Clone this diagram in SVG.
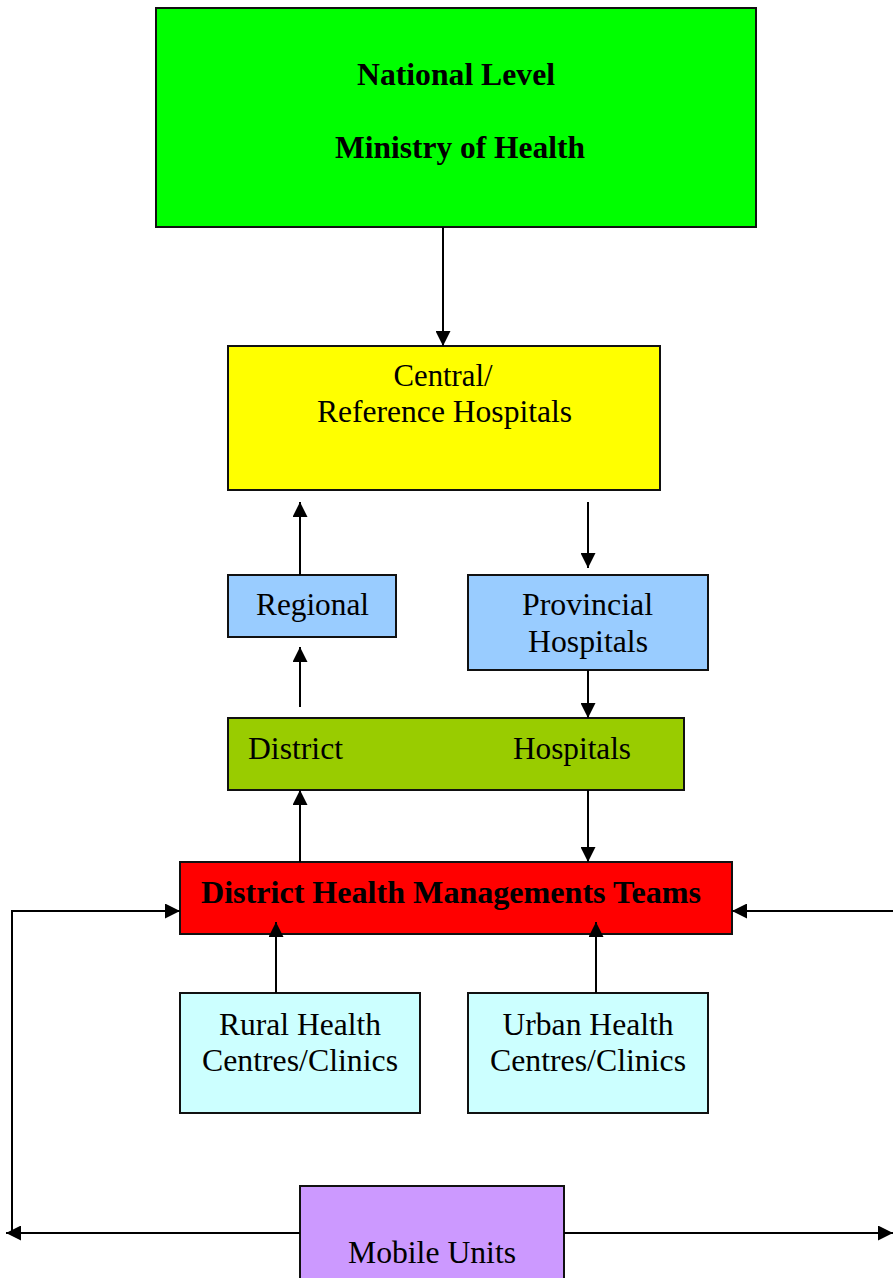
<svg xmlns="http://www.w3.org/2000/svg" width="893" height="1278" viewBox="0 0 893 1278">
<style>
.box{stroke:#111;stroke-width:2}
.t{font-family:"Liberation Serif","Times New Roman",serif;font-size:32px;fill:#000;text-anchor:middle}
.b{font-weight:bold}
.s{text-anchor:start}
.c{fill:none;stroke:#000;stroke-width:2}
</style>
<defs>
<marker id="ah" viewBox="0 0 10 10" refX="10" refY="5" markerWidth="16" markerHeight="15" markerUnits="userSpaceOnUse" orient="auto">
<path d="M0,0 L10,5 L0,10 Z" fill="#000"/>
</marker>
</defs>
<rect width="893" height="1278" fill="#fff"/>
<g id="national">
<rect class="box" x="156" y="8" width="600" height="219" fill="#00ff00"/>
<text class="t b" x="456" y="85" textLength="198" lengthAdjust="spacingAndGlyphs">National Level</text>
<text class="t b" x="460" y="158" textLength="250" lengthAdjust="spacingAndGlyphs">Ministry of Health</text>
</g>
<g id="central">
<rect class="box" x="228" y="346" width="432" height="144" fill="#ffff00"/>
<text class="t" x="443" y="386" textLength="99" lengthAdjust="spacingAndGlyphs">Central/</text>
<text class="t" x="444.5" y="422" textLength="255" lengthAdjust="spacingAndGlyphs">Reference Hospitals</text>
</g>
<g id="regional">
<rect class="box" x="228" y="575" width="168" height="62" fill="#99ccff"/>
<text class="t" x="312.5" y="615" textLength="113" lengthAdjust="spacingAndGlyphs">Regional</text>
</g>
<g id="provincial">
<rect class="box" x="468" y="575" width="240" height="95" fill="#99ccff"/>
<text class="t" x="587.5" y="615" textLength="131" lengthAdjust="spacingAndGlyphs">Provincial</text>
<text class="t" x="588" y="652" textLength="120" lengthAdjust="spacingAndGlyphs">Hospitals</text>
</g>
<g id="district">
<rect class="box" x="228" y="718" width="456" height="72" fill="#99cc00"/>
<text class="t s" x="248" y="759" textLength="95" lengthAdjust="spacingAndGlyphs">District</text>
<text class="t s" x="513" y="759" textLength="118" lengthAdjust="spacingAndGlyphs">Hospitals</text>
</g>
<g id="dhmt">
<rect class="box" x="180" y="862" width="552" height="72" fill="#ff0000"/>
<text class="t b" x="451" y="903" textLength="500" lengthAdjust="spacingAndGlyphs">District Health Managements Teams</text>
</g>
<g id="rural">
<rect class="box" x="180" y="993" width="240" height="120" fill="#ccffff"/>
<text class="t" x="300" y="1035" textLength="162" lengthAdjust="spacingAndGlyphs">Rural Health</text>
<text class="t" x="300" y="1071" textLength="196" lengthAdjust="spacingAndGlyphs">Centres/Clinics</text>
</g>
<g id="urban">
<rect class="box" x="468" y="993" width="240" height="120" fill="#ccffff"/>
<text class="t" x="588" y="1035" textLength="171" lengthAdjust="spacingAndGlyphs">Urban Health</text>
<text class="t" x="588" y="1071" textLength="196" lengthAdjust="spacingAndGlyphs">Centres/Clinics</text>
</g>
<g id="mobile">
<rect class="box" x="300" y="1186" width="264" height="100" fill="#cc99ff"/>
<text class="t" x="432" y="1263" textLength="168" lengthAdjust="spacingAndGlyphs">Mobile Units</text>
</g>
<g id="connectors">
<path class="c" d="M443,227 V346" marker-end="url(#ah)"/>
<path class="c" d="M300,575 V502" marker-end="url(#ah)"/>
<path class="c" d="M588,502 V568" marker-end="url(#ah)"/>
<path class="c" d="M300,707 V647" marker-end="url(#ah)"/>
<path class="c" d="M588,670 V718" marker-end="url(#ah)"/>
<path class="c" d="M300,862 V790" marker-end="url(#ah)"/>
<path class="c" d="M588,790 V862" marker-end="url(#ah)"/>
<path class="c" d="M276,993 V922" marker-end="url(#ah)"/>
<path class="c" d="M596,993 V922" marker-end="url(#ah)"/>
<path class="c" d="M12,1233 V911 H180" marker-end="url(#ah)"/>
<path class="c" d="M893,911 H732" marker-end="url(#ah)"/>
<path class="c" d="M300,1233 H6" marker-end="url(#ah)"/>
<path class="c" d="M564,1233 H893" marker-end="url(#ah)"/>
</g>
</svg>
